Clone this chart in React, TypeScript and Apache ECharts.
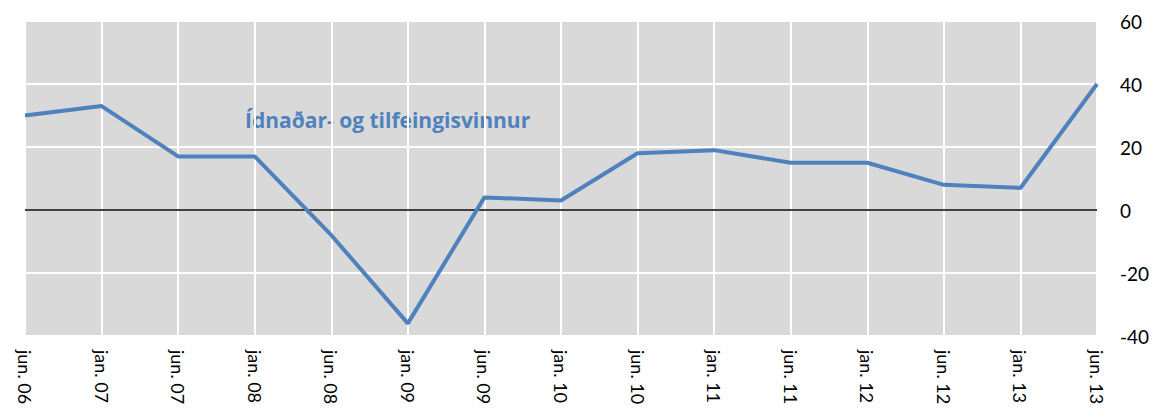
import React, { useEffect, useRef } from "react";
import * as echarts from "echarts";

const categories = [
  "jun. 06", "jan. 07", "jun. 07", "jan. 08", "jun. 08", "jan. 09", "jun. 09", "jan. 10",
  "jun. 10", "jan. 11", "jun. 11", "jan. 12", "jun. 12", "jan. 13", "jun. 13",
];
const values = [30, 33, 17, 17, -8, -36, 4, 3, 18, 19, 15, 15, 8, 7, 40];
const seriesLabel = "Ídnaðar- og tilfeingisvinnur";
const yMin = -40;
const yMax = 60;
const yInterval = 20;

const FONT = "Lato, 'Open Sans', sans-serif";
const BLUE = "#4f81bd";

export default function App() {
  const ref = useRef<HTMLDivElement>(null);
  useEffect(() => {
    document.body.style.margin = "0";
    const chart = echarts.init(ref.current!, undefined, { renderer: "svg" });
    chart.setOption({
      animation: false,
      backgroundColor: "#ffffff",
      grid: {
        left: 25,
        right: 60,
        top: 21,
        bottom: 81,
        show: true,
        backgroundColor: "#d9d9d9",
        borderWidth: 0,
      },
      xAxis: {
        type: "category",
        data: categories,
        boundaryGap: false,
        axisLine: { show: false },
        axisTick: { show: false },
        splitLine: { show: true, interval: 0, lineStyle: { color: "#ffffff", width: 2 } },
        axisLabel: {
          interval: 0,
          rotate: -90,
          fontFamily: FONT,
          fontSize: 18,
          color: "#000000",
          margin: 14,
        },
      },
      yAxis: {
        type: "value",
        position: "right",
        min: yMin,
        max: yMax,
        interval: yInterval,
        axisLine: { show: false },
        axisTick: { show: false },
        splitLine: { show: true, lineStyle: { color: "#ffffff", width: 2 } },
        axisLabel: {
          fontFamily: FONT,
          fontSize: 19,
          color: "#000000",
          margin: 23,
        },
      },
      series: [
        {
          type: "line",
          data: values,
          symbol: "none",
          lineStyle: { color: BLUE, width: 4 },
          markLine: {
            silent: true,
            symbol: "none",
            label: { show: false },
            lineStyle: { color: "#000000", width: 1.5, type: "solid" },
            data: [{ yAxis: 0 }],
            z: 1,
          },
        },
      ],
      graphic: [
        {
          type: "text",
          left: 245,
          top: 109,
          style: {
            text: seriesLabel,
            fontFamily: "'Open Sans', sans-serif",
            fontWeight: "bold",
            fontSize: 21,
            fill: BLUE,
          },
        },
      ],
    });
    return () => chart.dispose();
  }, []);
  return <div ref={ref} style={{ width: 1157, height: 417 }} />;
}
